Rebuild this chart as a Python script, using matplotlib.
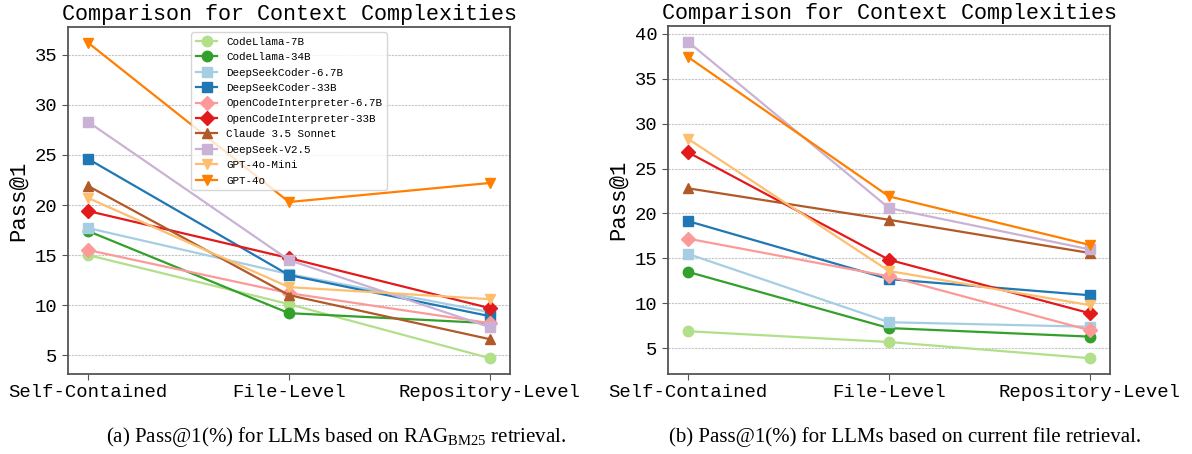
import matplotlib
matplotlib.use("Agg")
import matplotlib.pyplot as plt

categories = ["Self-Contained", "File-Level", "Repository-Level"]
models = ["CodeLlama-7B", "CodeLlama-34B", "DeepSeekCoder-6.7B", "DeepSeekCoder-33B",
          "OpenCodeInterpreter-6.7B", "OpenCodeInterpreter-33B", "Claude 3.5 Sonnet",
          "DeepSeek-V2.5", "GPT-4o-Mini", "GPT-4o"]

# (a) RAG_BM25 retrieval
bm25_codellama_7b = [15.0, 10.1, 4.7]
bm25_codellama_34b = [17.4, 9.2, 8.2]
bm25_dsc_6_7b = [17.7, 13.1, 9.3]
bm25_dsc_33b = [24.6, 13.0, 8.9]
bm25_oci_6_7b = [15.5, 11.2, 8.2]
bm25_oci_33b = [19.4, 14.7, 9.7]
bm25_claude = [21.9, 11.0, 6.6]
bm25_deepseek_v25 = [28.3, 14.5, 7.8]
bm25_gpt4o_mini = [20.7, 11.8, 10.6]
bm25_gpt4o = [36.2, 20.3, 22.2]

# (b) current file retrieval
cur_codellama_7b = [6.9, 5.7, 3.9]
cur_codellama_34b = [13.5, 7.25, 6.3]
cur_dsc_6_7b = [15.5, 7.9, 7.4]
cur_dsc_33b = [19.15, 12.7, 10.9]
cur_oci_6_7b = [17.2, 13.0, 7.0]
cur_oci_33b = [26.8, 14.85, 8.9]
cur_claude = [22.8, 19.3, 15.6]
cur_deepseek_v25 = [39.1, 20.6, 16.0]
cur_gpt4o_mini = [28.3, 13.6, 9.8]
cur_gpt4o = [37.4, 21.9, 16.5]

bm25 = [bm25_codellama_7b, bm25_codellama_34b, bm25_dsc_6_7b, bm25_dsc_33b, bm25_oci_6_7b,
        bm25_oci_33b, bm25_claude, bm25_deepseek_v25, bm25_gpt4o_mini, bm25_gpt4o]
cur = [cur_codellama_7b, cur_codellama_34b, cur_dsc_6_7b, cur_dsc_33b, cur_oci_6_7b,
       cur_oci_33b, cur_claude, cur_deepseek_v25, cur_gpt4o_mini, cur_gpt4o]

colors = ["#b2df8a", "#33a02c", "#a6cee3", "#1f78b4", "#fb9a99", "#e31a1c",
          "#b15928", "#cab2d6", "#fdbf6f", "#ff7f00"]
markers = ["o", "o", "s", "s", "D", "D", "^", "s", "v", "v"]

plt.rcParams["mathtext.fontset"] = "custom"
plt.rcParams["mathtext.rm"] = "Liberation Serif"
mono = "Liberation Mono"

fig = plt.figure(figsize=(11.92, 4.54), dpi=100)
W, H = 1192, 454
ax1 = fig.add_axes([68 / W, 80 / H, 442 / W, 347 / H])
ax2 = fig.add_axes([668 / W, 80 / H, 442 / W, 348 / H])

x = list(range(len(categories)))
for ax, data in ((ax1, bm25), (ax2, cur)):
    for name, vals, c, m in zip(models, data, colors, markers):
        ax.plot(x, vals, color=c, marker=m, markersize=7.5, linewidth=1.6, label=name)
    ax.set_xticks(x)
    ax.set_xticklabels(categories, fontfamily=mono, fontsize=13.6)
    ax.yaxis.grid(True, linestyle=(0, (2, 1)), color="#c4c4c4", linewidth=0.8)
    ax.set_axisbelow(True)
    for sp in ax.spines.values():
        sp.set_color("#555555")
        sp.set_linewidth(1.3)
    ax.tick_params(color="#555555", length=4)
    ax.set_title("Comparison for Context Complexities", fontfamily=mono, fontsize=15.7, pad=5)
    ax.set_ylabel("Pass@1", fontfamily=mono, fontsize=16, labelpad=4)

ax1.set_yticks([5, 10, 15, 20, 25, 30, 35])
ax2.set_yticks([5, 10, 15, 20, 25, 30, 35, 40])
for ax in (ax1, ax2):
    for lab in ax.get_yticklabels():
        lab.set_fontfamily(mono)
        lab.set_fontsize(13.6)

leg = ax1.legend(loc="upper center", prop={"family": mono, "size": 7.8}, framealpha=0.8)

fig.text(336 / W, 1 - 437 / H, r"(a) Pass@1(%) for LLMs based on RAG$_{\mathrm{BM25}}$ retrieval.",
         ha="center", va="center", fontfamily="Liberation Serif", fontsize=15)
fig.text(905 / W, 1 - 437 / H, "(b) Pass@1(%) for LLMs based on current file retrieval.",
         ha="center", va="center", fontfamily="Liberation Serif", fontsize=15)

fig.savefig("out.png", dpi=100)
